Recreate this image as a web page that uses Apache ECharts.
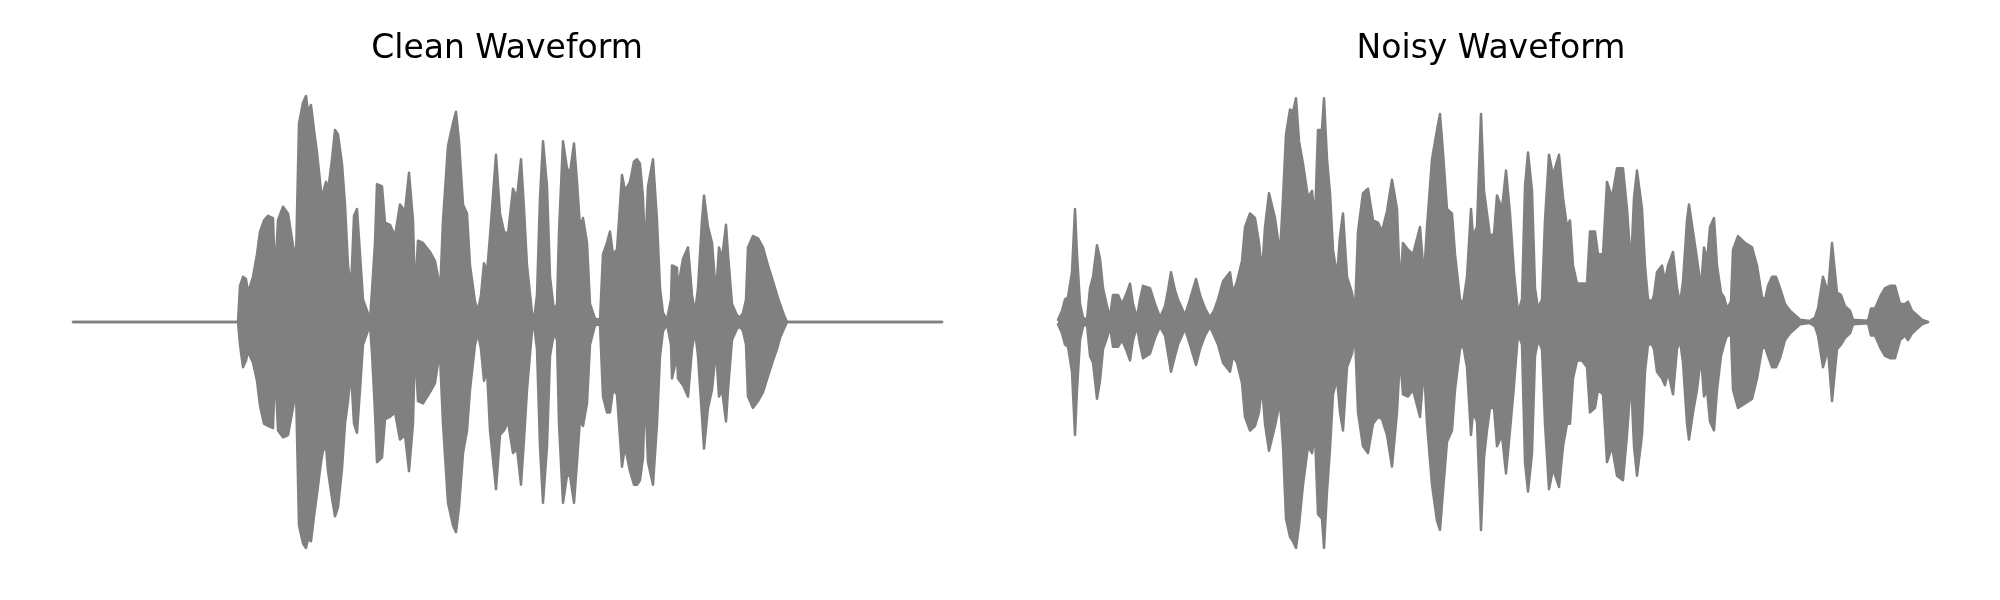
<!DOCTYPE html>
<html>
<head>
<meta charset="utf-8">
<script src="https://cdn.jsdelivr.net/npm/echarts@6/dist/echarts.min.js"></script>
<style>
html,body{margin:0;padding:0;background:#fff;}
#chart{width:2000px;height:600px;}
</style>
</head>
<body>
<div id="chart"></div>
<script>
// Titles
const titles = ["Clean Waveform", "Noisy Waveform"];

// Clean waveform envelope: time (frames), upper and lower amplitude (normalised)
const cleanTime = [0,96,97,98,106,107,108,133,134,135,165,167,170,173,175,180,184,187,191,195,200,202,205,210,215,220,223,226,230,233,235,238,241,244,248,250,253,255,259,262,265,269,272,275,278,281,284,287,290,294,297,299,302,304,309,312,317,322,327,332,336,340,342,345,350,357,362,365,367,370,375,380,383,386,390,394,397,402,405,408,411,414,417,423,427,431,435,440,444,448,451,454,459,461,464,467,470,474,477,481,484,486,490,494,497,501,504,507,510,514,517,522,527,530,534,537,540,544,549,552,557,561,564,567,570,572,575,580,584,587,590,594,598,599,604,605,610,615,619,622,625,629,631,635,639,643,646,649,653,655,659,664,667,670,673,675,680,685,690,695,700,704,707,711,714,869];
const cleanUpper = [0,0,0.008,0,0,0.008,0,0,0.008,0,0,0.16,0.20,0.19,0.13,0.20,0.30,0.40,0.45,0.47,0.46,0.20,0.45,0.51,0.48,0.34,0.28,0.88,0.97,1.0,0.93,0.96,0.85,0.75,0.58,0.57,0.62,0.58,0.72,0.85,0.83,0.70,0.52,0.25,0.15,0.47,0.50,0.30,0.10,0.05,0.01,0.14,0.35,0.61,0.60,0.44,0.43,0.38,0.52,0.49,0.66,0.45,0.12,0.36,0.35,0.31,0.27,0.20,0.12,0.45,0.78,0.88,0.93,0.80,0.52,0.48,0.25,0.09,0.05,0.12,0.26,0.22,0.38,0.74,0.48,0.40,0.39,0.59,0.55,0.72,0.50,0.25,0.04,0.01,0.12,0.55,0.80,0.60,0.20,0.05,0.08,0.40,0.80,0.68,0.66,0.79,0.62,0.42,0.46,0.35,0.08,0.015,0.01,0.30,0.35,0.40,0.30,0.32,0.65,0.58,0.62,0.71,0.72,0.70,0.55,0.30,0.60,0.72,0.45,0.15,0.04,0.01,0.10,0.25,0.24,0.15,0.28,0.33,0.12,0.04,0.15,0.45,0.56,0.42,0.35,0.12,0.33,0.28,0.43,0.30,0.08,0.03,0.02,0.04,0.10,0.33,0.38,0.37,0.33,0.25,0.18,0.12,0.08,0.03,0,0];
const cleanLower = [0,0,-0.008,0,0,-0.008,0,0,-0.008,0,0,-0.10,-0.20,-0.17,-0.13,-0.18,-0.26,-0.37,-0.45,-0.46,-0.47,-0.20,-0.48,-0.51,-0.50,-0.38,-0.30,-0.90,-0.98,-1.0,-0.96,-0.97,-0.86,-0.76,-0.62,-0.57,-0.55,-0.66,-0.78,-0.86,-0.82,-0.65,-0.45,-0.35,-0.22,-0.45,-0.49,-0.30,-0.10,-0.05,-0.01,-0.14,-0.40,-0.62,-0.60,-0.43,-0.42,-0.40,-0.52,-0.50,-0.66,-0.45,-0.10,-0.35,-0.36,-0.31,-0.27,-0.18,-0.15,-0.45,-0.80,-0.90,-0.93,-0.82,-0.58,-0.48,-0.30,-0.10,-0.05,-0.12,-0.26,-0.21,-0.48,-0.74,-0.50,-0.48,-0.44,-0.58,-0.56,-0.72,-0.52,-0.30,-0.04,-0.01,-0.12,-0.55,-0.80,-0.55,-0.15,-0.05,-0.08,-0.45,-0.80,-0.68,-0.68,-0.80,-0.62,-0.43,-0.46,-0.36,-0.10,-0.015,-0.01,-0.33,-0.40,-0.40,-0.30,-0.32,-0.64,-0.55,-0.66,-0.72,-0.72,-0.70,-0.60,-0.30,-0.62,-0.72,-0.45,-0.15,-0.04,-0.01,-0.10,-0.25,-0.15,-0.25,-0.28,-0.33,-0.12,-0.04,-0.15,-0.42,-0.56,-0.38,-0.30,-0.12,-0.33,-0.30,-0.44,-0.30,-0.08,-0.03,-0.02,-0.04,-0.10,-0.33,-0.38,-0.35,-0.31,-0.24,-0.17,-0.12,-0.07,-0.03,0,0];

// Noisy waveform envelope
const noisyTime = [0,4,7,10,14,17,19,22,25,29,32,35,39,42,45,49,52,55,60,64,68,72,75,79,82,85,92,97,102,107,110,113,117,120,124,127,132,138,142,147,152,156,160,165,172,175,179,184,187,192,197,201,204,207,211,217,222,225,228,232,235,238,241,245,250,254,257,260,264,266,269,272,275,279,282,285,289,294,297,300,305,310,315,320,324,329,334,339,342,345,350,355,362,366,369,374,379,382,385,389,394,397,402,405,409,413,415,419,423,426,429,432,436,439,444,448,452,456,460,464,467,470,474,477,480,484,487,491,495,501,505,509,512,515,519,524,529,532,537,540,545,549,554,559,565,569,573,576,579,584,587,590,594,596,599,604,607,610,615,619,622,625,629,631,635,639,643,646,649,652,656,659,663,666,669,673,675,680,687,694,699,704,707,710,714,718,722,727,732,737,742,752,757,760,765,770,774,779,783,787,792,795,810,813,817,823,827,832,837,842,847,850,854,859,864,870];
const noisyUpper = [0.01,0.05,0.10,0.11,0.22,0.50,0.30,0.08,0.02,0.01,0.15,0.20,0.34,0.28,0.15,0.07,0.02,0.12,0.12,0.08,0.12,0.17,0.08,0.02,0.10,0.16,0.15,0.08,0.02,0.07,0.14,0.22,0.14,0.10,0.06,0.03,0.10,0.19,0.12,0.06,0.02,0.05,0.10,0.18,0.22,0.13,0.18,0.27,0.42,0.48,0.46,0.35,0.22,0.42,0.57,0.46,0.30,0.55,0.83,0.94,0.93,0.99,0.80,0.70,0.55,0.58,0.45,0.85,0.85,0.99,0.72,0.57,0.32,0.20,0.38,0.48,0.20,0.13,0.05,0.40,0.57,0.59,0.45,0.44,0.40,0.49,0.63,0.50,0.15,0.35,0.32,0.30,0.42,0.20,0.42,0.72,0.85,0.92,0.75,0.50,0.48,0.30,0.10,0.08,0.20,0.50,0.38,0.42,0.92,0.58,0.48,0.38,0.39,0.56,0.50,0.67,0.48,0.22,0.04,0.10,0.60,0.75,0.58,0.15,0.06,0.10,0.45,0.74,0.65,0.74,0.55,0.42,0.45,0.25,0.17,0.17,0.17,0.40,0.40,0.30,0.30,0.62,0.55,0.68,0.68,0.50,0.25,0.55,0.67,0.50,0.25,0.10,0.09,0.12,0.22,0.25,0.18,0.25,0.31,0.15,0.08,0.18,0.45,0.52,0.40,0.28,0.15,0.33,0.27,0.42,0.46,0.25,0.13,0.11,0.06,0.09,0.32,0.38,0.35,0.33,0.25,0.11,0.10,0.16,0.20,0.20,0.15,0.08,0.05,0.03,0.01,0.005,0.02,0.06,0.20,0.13,0.35,0.13,0.12,0.07,0.05,0.01,0.005,0.06,0.06,0.12,0.15,0.16,0.16,0.08,0.08,0.09,0.05,0.03,0.01,0];
const noisyLower = [-0.01,-0.05,-0.10,-0.11,-0.22,-0.50,-0.30,-0.08,-0.02,-0.01,-0.15,-0.18,-0.34,-0.26,-0.12,-0.07,-0.02,-0.11,-0.11,-0.08,-0.12,-0.17,-0.08,-0.02,-0.10,-0.16,-0.14,-0.07,-0.02,-0.06,-0.14,-0.22,-0.15,-0.10,-0.06,-0.03,-0.10,-0.19,-0.12,-0.06,-0.02,-0.06,-0.10,-0.18,-0.22,-0.15,-0.18,-0.27,-0.42,-0.48,-0.46,-0.40,-0.28,-0.45,-0.57,-0.46,-0.35,-0.55,-0.87,-0.95,-0.97,-1.0,-0.90,-0.72,-0.55,-0.58,-0.50,-0.85,-0.87,-1.0,-0.75,-0.56,-0.32,-0.25,-0.40,-0.48,-0.20,-0.14,-0.06,-0.40,-0.55,-0.58,-0.45,-0.42,-0.43,-0.50,-0.64,-0.40,-0.15,-0.32,-0.33,-0.30,-0.42,-0.20,-0.45,-0.72,-0.88,-0.92,-0.75,-0.53,-0.48,-0.30,-0.12,-0.10,-0.20,-0.50,-0.40,-0.44,-0.92,-0.60,-0.48,-0.38,-0.38,-0.55,-0.50,-0.67,-0.48,-0.28,-0.05,-0.10,-0.62,-0.75,-0.58,-0.15,-0.08,-0.12,-0.45,-0.74,-0.65,-0.73,-0.55,-0.45,-0.45,-0.25,-0.17,-0.17,-0.20,-0.40,-0.38,-0.30,-0.32,-0.62,-0.55,-0.68,-0.70,-0.50,-0.25,-0.55,-0.68,-0.50,-0.22,-0.10,-0.10,-0.12,-0.22,-0.25,-0.28,-0.22,-0.32,-0.12,-0.08,-0.18,-0.45,-0.52,-0.40,-0.30,-0.15,-0.33,-0.30,-0.44,-0.48,-0.30,-0.15,-0.10,-0.06,-0.06,-0.30,-0.38,-0.36,-0.34,-0.25,-0.12,-0.11,-0.15,-0.20,-0.20,-0.16,-0.08,-0.05,-0.03,-0.01,-0.005,-0.02,-0.06,-0.20,-0.12,-0.35,-0.12,-0.10,-0.07,-0.05,-0.01,-0.005,-0.06,-0.06,-0.12,-0.15,-0.16,-0.16,-0.08,-0.06,-0.08,-0.05,-0.03,-0.01,0];

const GREY = '#808080';
function pairs(t, v) { return t.map((x, i) => [x, v[i]]); }
function waveSeries(idx, t, v) {
  return {
    type: 'line', xAxisIndex: idx, yAxisIndex: idx,
    data: pairs(t, v), showSymbol: false, symbol: 'none', smooth: false,
    lineStyle: { color: GREY, width: 2.5, join: 'round', cap: 'round' },
    areaStyle: { color: GREY, opacity: 1 },
    silent: true, animation: false, z: 2
  };
}

const chart = echarts.init(document.getElementById('chart'), null, { renderer: 'canvas' });
chart.setOption({
  backgroundColor: '#ffffff',
  animation: false,
  title: [
    { text: titles[0], left: 507, top: 33, textAlign: 'center', padding: 0,
      textStyle: { fontFamily: 'DejaVu Sans', fontSize: 33, fontWeight: 'normal', color: '#000' } },
    { text: titles[1], left: 1491, top: 33, textAlign: 'center', padding: 0,
      textStyle: { fontFamily: 'DejaVu Sans', fontSize: 33, fontWeight: 'normal', color: '#000' } }
  ],
  grid: [
    { left: 73, top: 96, width: 869, height: 452 },
    { left: 1058, top: 96, width: 870, height: 452 }
  ],
  xAxis: [
    { type: 'value', gridIndex: 0, min: 0, max: 869, show: false },
    { type: 'value', gridIndex: 1, min: 0, max: 870, show: false }
  ],
  yAxis: [
    { type: 'value', gridIndex: 0, min: -1, max: 1, show: false },
    { type: 'value', gridIndex: 1, min: -1, max: 1, show: false }
  ],
  series: [
    waveSeries(0, cleanTime, cleanUpper),
    waveSeries(0, cleanTime, cleanLower),
    waveSeries(1, noisyTime, noisyUpper),
    waveSeries(1, noisyTime, noisyLower)
  ]
});
</script>
</body>
</html>
